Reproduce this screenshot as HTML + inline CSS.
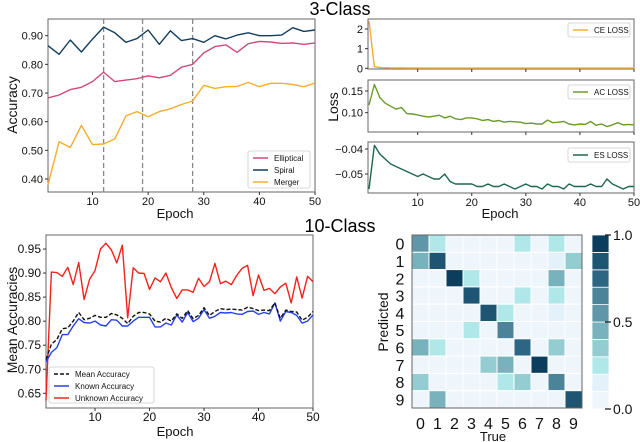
<!DOCTYPE html>
<html><head><meta charset="utf-8"><style>
html,body{margin:0;padding:0;background:#fff;}
svg{display:block;font-family:"Liberation Sans",Arial,sans-serif;}
</style></head><body>
<svg id="fig" width="640" height="442" viewBox="0 0 640 442" xmlns="http://www.w3.org/2000/svg">
<text x="340" y="15" font-size="18" text-anchor="middle">3-Class</text>
<text x="340" y="232" font-size="18" text-anchor="middle">10-Class</text>
</svg>
<script>
// ---------- data ----------
const accEpochs = [2,4,6,8,10,12,14,16,18,20,22,24,26,28,30,32,34,36,38,40,42,44,46,48,50];
const spiralAcc = [0.865,0.835,0.885,0.843,0.888,0.93,0.91,0.877,0.89,0.92,0.87,0.917,0.883,0.89,0.877,0.9,0.889,0.902,0.91,0.9,0.9,0.902,0.928,0.915,0.92];
const ellipticalAcc = [0.683,0.693,0.712,0.72,0.74,0.773,0.74,0.745,0.75,0.76,0.753,0.762,0.79,0.8,0.84,0.862,0.868,0.842,0.872,0.88,0.878,0.873,0.875,0.87,0.875];
const mergerAcc = [0.38,0.53,0.51,0.587,0.52,0.522,0.54,0.62,0.635,0.617,0.635,0.645,0.66,0.672,0.727,0.716,0.722,0.723,0.737,0.722,0.734,0.734,0.73,0.722,0.735];
const accTicks = [0.4,0.5,0.6,0.7,0.8,0.9];
const epochTicks = [10,20,30,40,50];
const dashEpochs = [12,19,28];

const ceLoss = [2.4,0.08,0.04,0.03,0.02,0.02,0.02,0.015,0.015,0.015,0.01,0.01,0.01,0.01,0.01,0.01,0.01,0.01,0.01,0.01,0.01,0.01,0.01,0.01,0.01,0.01,0.01,0.01,0.01,0.01,0.01,0.01,0.01,0.01,0.01,0.01,0.01,0.01,0.01,0.01,0.01,0.01,0.01,0.01,0.01,0.01,0.01,0.01,0.01,0.01];
const acLoss = [0.118,0.165,0.135,0.122,0.115,0.108,0.112,0.098,0.097,0.095,0.092,0.09,0.092,0.094,0.088,0.092,0.086,0.084,0.088,0.088,0.086,0.082,0.084,0.08,0.082,0.078,0.08,0.079,0.078,0.075,0.076,0.074,0.074,0.083,0.077,0.078,0.08,0.074,0.072,0.074,0.073,0.08,0.071,0.074,0.068,0.072,0.077,0.072,0.073,0.072];
const esLoss = [-0.056,-0.0385,-0.042,-0.044,-0.046,-0.047,-0.048,-0.049,-0.05,-0.051,-0.05,-0.051,-0.052,-0.052,-0.05,-0.053,-0.054,-0.054,-0.054,-0.054,-0.055,-0.055,-0.054,-0.055,-0.055,-0.054,-0.055,-0.056,-0.055,-0.054,-0.055,-0.055,-0.056,-0.054,-0.055,-0.055,-0.056,-0.054,-0.055,-0.055,-0.055,-0.054,-0.055,-0.055,-0.052,-0.054,-0.055,-0.056,-0.055,-0.055];
const ceTicks = [0,1,2];
const acTicks = [0.10,0.15];
const esTicks = [-0.05,-0.04];

const unknownAcc = [0.635,0.902,0.901,0.893,0.912,0.876,0.922,0.845,0.887,0.905,0.95,0.962,0.948,0.921,0.958,0.807,0.911,0.9,0.899,0.866,0.89,0.882,0.9,0.87,0.847,0.865,0.865,0.86,0.889,0.872,0.882,0.92,0.878,0.883,0.876,0.895,0.91,0.916,0.853,0.896,0.864,0.868,0.857,0.871,0.879,0.838,0.892,0.848,0.893,0.882];
const knownAcc = [0.715,0.735,0.745,0.772,0.772,0.79,0.805,0.797,0.796,0.8,0.792,0.79,0.803,0.802,0.79,0.79,0.8,0.808,0.808,0.808,0.788,0.788,0.796,0.792,0.813,0.798,0.818,0.799,0.806,0.824,0.806,0.81,0.818,0.817,0.818,0.815,0.814,0.82,0.821,0.814,0.818,0.815,0.838,0.8,0.82,0.818,0.812,0.796,0.8,0.813];
const meanAcc = [0.72,0.752,0.762,0.784,0.786,0.8,0.818,0.803,0.806,0.812,0.808,0.808,0.816,0.813,0.806,0.795,0.81,0.818,0.818,0.815,0.8,0.798,0.806,0.8,0.815,0.806,0.822,0.805,0.812,0.828,0.812,0.82,0.826,0.824,0.825,0.824,0.823,0.829,0.826,0.822,0.823,0.822,0.838,0.806,0.823,0.82,0.819,0.802,0.808,0.82];
const meanTicks = [0.65,0.70,0.75,0.80,0.85,0.90,0.95];

const classLabels = ['0','1','2','3','4','5','6','7','8','9'];
const confusion = [
[0.6,0.25,0.02,0.02,0.04,0.06,0.25,0.02,0.3,0.06],
[0.45,0.85,0.02,0.02,0.02,0.06,0.05,0.02,0.12,0.35],
[0.02,0.05,1.0,0.25,0.02,0.02,0.05,0.02,0.45,0.05],
[0.02,0.05,0.02,0.85,0.02,0.02,0.25,0.02,0.22,0.02],
[0.02,0.05,0.02,0.04,0.9,0.25,0.02,0.04,0.12,0.02],
[0.05,0.02,0.04,0.25,0.04,0.7,0.04,0.02,0.06,0.02],
[0.45,0.25,0.04,0.04,0.04,0.02,0.75,0.06,0.35,0.04],
[0.02,0.02,0.02,0.04,0.35,0.45,0.02,1.0,0.05,0.06],
[0.35,0.04,0.05,0.02,0.06,0.25,0.35,0.05,0.65,0.02],
[0.04,0.5,0.02,0.02,0.02,0.04,0.02,0.02,0.02,0.9]];
const cbTicks = [0.0,0.5,1.0];

// ---------- helpers ----------
const NS='http://www.w3.org/2000/svg';
const svg=document.getElementById('fig');
function mk(tag,attrs){const e=document.createElementNS(NS,tag);for(const k in attrs)e.setAttribute(k,attrs[k]);svg.appendChild(e);return e;}
function lin(d0,d1,r0,r1){return v=>r0+(v-d0)*(r1-r0)/(d1-d0);}
function frame(x0,y0,x1,y1,name){
  const r=mk('rect',{x:x0,y:y0,width:x1-x0,height:y1-y0,fill:'none',stroke:'#666','stroke-width':1});
  
  
}
function series(xs,ys,sx,sy,color,name,w,dash){
  let d='';xs.forEach((x,i)=>{d+=(i?'L':'M')+sx(x).toFixed(1)+','+sy(ys[i]).toFixed(1);});
  const p=mk('path',{d:d,fill:'none',stroke:color,'stroke-width':w||1.4,'stroke-dasharray':dash||'none','stroke-linejoin':'round'});
  
  
}
function txt(x,y,s,size,anchor,name,rot){
  const t=mk('text',{x:x,y:y,'font-size':size,'text-anchor':anchor||'middle',fill:'#111'});
  if(rot)t.setAttribute('transform','rotate(-90 '+x+' '+y+')');
  t.textContent=s;
  
  
}
function yticks(ticks,sy,x0,fmt,fs){
  ticks.forEach(v=>{
    const l=mk('line',{x1:x0-3,x2:x0,y1:sy(v),y2:sy(v),stroke:'#333'});
    
    
    txt(x0-5,sy(v)+4,fmt(v),fs||11,'end','y-tick-label');
  });
}
function xticks(ticks,sx,y0,labels,fs){
  ticks.forEach(v=>{
    const l=mk('line',{x1:sx(v),x2:sx(v),y1:y0,y2:y0+3,stroke:'#333'});
    
    
    if(labels)txt(sx(v),y0+13,String(v),fs||11,'middle','x-tick-label');
  });
}
function legend(x,y,w,h,items){
  const r=mk('rect',{x:x,y:y,width:w,height:h,fill:'#fff',stroke:'#ccc','stroke-width':0.8,rx:2});
  
  
  items.forEach((it,i)=>{
    const yy=y+7+i*12;
    const l=mk('line',{x1:x+5,x2:x+20,y1:yy,y2:yy,stroke:it[1],'stroke-width':1.5,'stroke-dasharray':it[2]||'none'});
    
    
    txt(x+26,yy+3,it[0],8,'start','legend-entry');
  });
}
const f2=v=>v.toFixed(2);

// ---------- top-left ----------
{
  const sx=lin(2,50,48,315), sy=lin(0.4,0.9,179,35.7);
  frame(48,19,315,192,'accuracy-plot-frame');
  dashEpochs.forEach(e=>{
    const l=mk('line',{x1:sx(e),x2:sx(e),y1:19,y2:192,stroke:'#888','stroke-width':1.3,'stroke-dasharray':'5,3'});
    
    
  });
  series(accEpochs,spiralAcc,sx,sy,'#143d5e','spiral-line');
  series(accEpochs,ellipticalAcc,sx,sy,'#cc4b7c','elliptical-line');
  series(accEpochs,mergerAcc,sx,sy,'#f8ad28','merger-line');
  yticks(accTicks,sy,48,f2,11);
  xticks(epochTicks,sx,192,true,11);
  txt(17,105,'Accuracy',14,'middle','y-axis-title',true);
  txt(175,218,'Epoch',13,'middle','x-axis-title');
  legend(248,151,62,37,[['Elliptical','#cc4b7c'],['Spiral','#143d5e'],['Merger','#f8ad28']]);
}
// ---------- top-right losses ----------
{
  const sx=lin(1,50,369,634);
  const ep=ceLoss.map((_,i)=>i+1);
  const s1=lin(0,2,68.3,29);
  frame(368,19,634,69,'ce-loss-frame');
  series(ep,ceLoss,sx,s1,'#f8ad28','ce-loss-line');
  yticks(ceTicks,s1,368,v=>String(v),11);
  xticks(epochTicks,sx,69,false);
  legend(568,23,62,14,[['CE LOSS','#f8ad28']]);
  const s2=lin(0.10,0.15,112.7,91);
  frame(368,80,634,132,'ac-loss-frame');
  series(ep,acLoss,sx,s2,'#6a9a2c','ac-loss-line');
  yticks(acTicks,s2,368,f2,11);
  xticks(epochTicks,sx,132,false);
  legend(568,85,62,14,[['AC LOSS','#6a9a2c']]);
  const s3=lin(-0.05,-0.04,174,149);
  frame(368,142,634,193,'es-loss-frame');
  series(ep,esLoss,sx,s3,'#1f6650','es-loss-line');
  yticks(esTicks,s3,368,v=>'\u2212'+Math.abs(v).toFixed(2),11);
  xticks(epochTicks,sx,193,true,11);
  legend(568,148,62,14,[['ES LOSS','#1f6650']]);
  txt(338,107,'Loss',14,'middle','loss-axis-title',true);
  txt(500,218,'Epoch',13,'middle','x-axis-title-loss');
}
// ---------- bottom-left ----------
{
  const sx=lin(1,50,46,313), sy=lin(0.65,0.95,393.3,249);
  const ep=meanAcc.map((_,i)=>i+1);
  frame(46,235,313,408,'mean-accuracy-frame');
  series(ep,unknownAcc,sx,sy,'#f2221c','unknown-accuracy-line');
  series(ep,knownAcc,sx,sy,'#2740ee','known-accuracy-line');
  series(ep,meanAcc,sx,sy,'#111','mean-accuracy-line',1.4,'4,2');
  yticks(meanTicks,sy,46,f2,12);
  xticks(epochTicks,sx,408,true,12);
  txt(17,320,'Mean Accuracies',14,'middle','y-axis-title-mean',true);
  txt(175,436,'Epoch',13,'middle','x-axis-title-mean');
  legend(49,367,105,36,[['Mean Accuracy','#111','4,2'],['Known Accuracy','#2740ee'],['Unknown Accuracy','#f2221c']]);
}
// ---------- heatmap ----------
{
  const pal=['#eef6fc','#e3f1fb','#b0e8ea','#93cdd2','#78b3bd','#5f97a8','#4b8399','#2c6683','#1d5572','#0b3d5c'];
  const col=v=>pal[Math.min(9,Math.max(0,Math.round(v*9.999-0.5)))];
  const hx=lin(0,10,412,582), hy=lin(0,10,235,408);
  confusion.forEach((row,r)=>row.forEach((v,c)=>{
    const e=mk('rect',{x:hx(c),y:hy(r),width:hx(1)-hx(0),height:hy(1)-hy(0),fill:col(v),stroke:'#fff','stroke-width':1});
    
    
  }));
  frame(412,235,582,408,'heatmap-frame');
  classLabels.forEach((s,i)=>{
    txt(400,hy(i+0.5)+6,s,16,'middle','row-label');
    txt(hx(i+0.5),429,s,16,'middle','col-label');
  });
  txt(493,441,'True',13,'middle','heatmap-x-title');
  txt(388,322,'Predicted',14,'middle','heatmap-y-title',true);
  const cy=lin(0,1,409,235);
  pal.forEach((p,i)=>{
    const e=mk('rect',{x:592,y:cy((i+1)/10),width:17,height:cy(0)-cy(0.1),fill:p,stroke:'#fff','stroke-width':0.8});
    
    
  });
  cbTicks.forEach(v=>{
    const l=mk('line',{x1:605,x2:611,y1:cy(v),y2:cy(v),stroke:'#222','stroke-width':1.3});
    
    
    txt(613,cy(v)+5,v.toFixed(1),14,'start','colorbar-tick-label');
  });
}
</script>
</body></html>
